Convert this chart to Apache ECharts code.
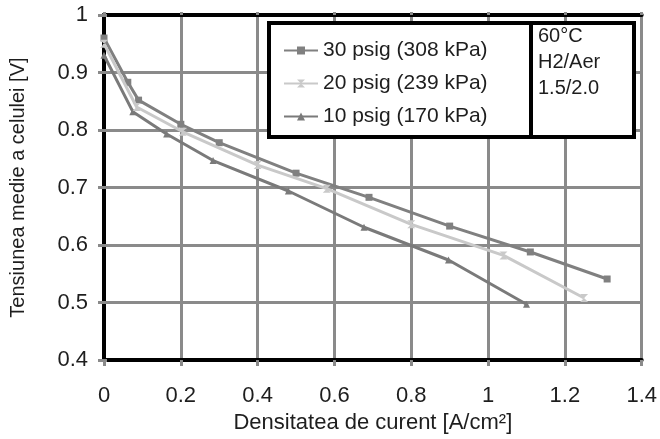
<!DOCTYPE html>
<html>
<head>
<meta charset="utf-8">
<script src="https://cdn.jsdelivr.net/npm/echarts@6/dist/echarts.min.js"></script>
<style>
  html, body { margin: 0; padding: 0; background: #fff; }
  #chart { width: 660px; height: 439px; }
</style>
</head>
<body>
<div id="chart"></div>
<script>
// Polarization curves: current density [A/cm2] vs mean cell voltage [V]
const seriesNames = ['30 psig (308 kPa)', '20 psig (239 kPa)', '10 psig (170 kPa)'];

const current30 = [0, 0.062, 0.09, 0.2, 0.3, 0.5, 0.69, 0.9, 1.11, 1.31];
const voltage30 = [0.96, 0.883, 0.852, 0.81, 0.778, 0.725, 0.683, 0.633, 0.588, 0.541];

const current20 = [0, 0.085, 0.205, 0.4, 0.58, 0.8, 1.04, 1.25];
const voltage20 = [0.95, 0.84, 0.797, 0.739, 0.698, 0.636, 0.582, 0.508];

const current10 = [0, 0.075, 0.163, 0.284, 0.48, 0.677, 0.897, 1.1];
const voltage10 = [0.93, 0.832, 0.793, 0.747, 0.694, 0.631, 0.574, 0.497];

const infoLines = ['60°C', 'H2/Aer', '1.5/2.0'];

const xTitle = 'Densitatea de curent [A/cm²]';
const yTitle = 'Tensiunea medie a celulei [V]';

function pairs(xs, ys) { return xs.map((x, i) => [x, ys[i]]); }

const FONT = '"Liberation Sans", Arial, sans-serif';
const TEXT = '#1e1e1e';
const GRID = '#8a8a8a';

const chart = echarts.init(document.getElementById('chart'), null, { renderer: 'canvas' });

const hourglass = 'path://M0,0L10,0L5,5L10,10L0,10L5,5Z';

chart.setOption({
  animation: false,
  backgroundColor: '#ffffff',
  grid: { left: 100, right: 17, top: 15, bottom: 75, containLabel: false },
  xAxis: [{
    type: 'value', min: 0, max: 1.4, interval: 0.2,
    name: xTitle, nameLocation: 'middle', nameGap: 50,
    nameTextStyle: { fontFamily: FONT, fontSize: 22, color: TEXT },
    axisLine: { show: true, onZero: false, lineStyle: { color: '#000', width: 4 } },
    axisTick: { show: true, length: 6, lineStyle: { color: GRID, width: 3 } },
    axisLabel: { fontFamily: FONT, fontSize: 22, color: TEXT, margin: 25 },
    splitLine: { show: true, lineStyle: { color: GRID, width: 3 } }
  }, {
    type: 'value', min: 0, max: 1.4, interval: 0.2, position: 'top',
    axisLine: { show: true, lineStyle: { color: '#000', width: 4 } },
    axisTick: { show: true, length: 3, lineStyle: { color: GRID, width: 3 } },
    axisLabel: { show: false }, splitLine: { show: false }
  }],
  yAxis: [{
    type: 'value', min: 0.4, max: 1, interval: 0.1,
    name: yTitle, nameLocation: 'middle', nameGap: 76,
    nameTextStyle: { fontFamily: FONT, fontSize: 20, color: TEXT },
    axisLine: { show: true, onZero: false, lineStyle: { color: '#000', width: 4 } },
    axisTick: { show: true, length: 6, lineStyle: { color: GRID, width: 3 } },
    axisLabel: { fontFamily: FONT, fontSize: 22, color: TEXT, margin: 16 },
    splitLine: { show: true, lineStyle: { color: GRID, width: 3 } }
  }, {
    type: 'value', min: 0.4, max: 1, interval: 0.1, position: 'right',
    axisLine: { show: true, lineStyle: { color: '#000', width: 4 } },
    axisTick: { show: true, length: 3, lineStyle: { color: GRID, width: 3 } },
    axisLabel: { show: false }, splitLine: { show: false }
  }],
  legend: {
    orient: 'vertical', left: 278, top: 35, z: 10,
    itemWidth: 34, itemHeight: 10, itemGap: 12,
    textStyle: { fontFamily: FONT, fontSize: 21, color: TEXT },
    data: seriesNames
  },
  graphic: [
    { type: 'rect', z: 5, shape: { x: 269, y: 23, width: 262, height: 114 },
      style: { fill: '#fff', stroke: '#000', lineWidth: 4 } },
    { type: 'rect', z: 5, shape: { x: 531, y: 23, width: 103, height: 114 },
      style: { fill: '#fff', stroke: '#000', lineWidth: 4 } }
  ].concat(infoLines.map((t, i) => ({
    type: 'text', z: 6, left: 538, top: 26 + i * 26,
    style: { text: t, fontFamily: FONT, fontSize: 20, fill: TEXT }
  }))),
  series: [
    {
      name: seriesNames[0], type: 'line', data: pairs(current30, voltage30),
      symbol: 'rect', symbolSize: 7, z: 3,
      lineStyle: { color: '#808080', width: 3 },
      itemStyle: { color: '#808080' }
    },
    {
      name: seriesNames[1], type: 'line', data: pairs(current20, voltage20),
      symbol: hourglass, symbolSize: 8, z: 4,
      lineStyle: { color: '#c9c9c9', width: 3 },
      itemStyle: { color: '#c9c9c9' }
    },
    {
      name: seriesNames[2], type: 'line', data: pairs(current10, voltage10),
      symbol: 'triangle', symbolSize: 7, z: 3,
      lineStyle: { color: '#7a7a7a', width: 3 },
      itemStyle: { color: '#7a7a7a' }
    }
  ]
});
</script>
</body>
</html>
